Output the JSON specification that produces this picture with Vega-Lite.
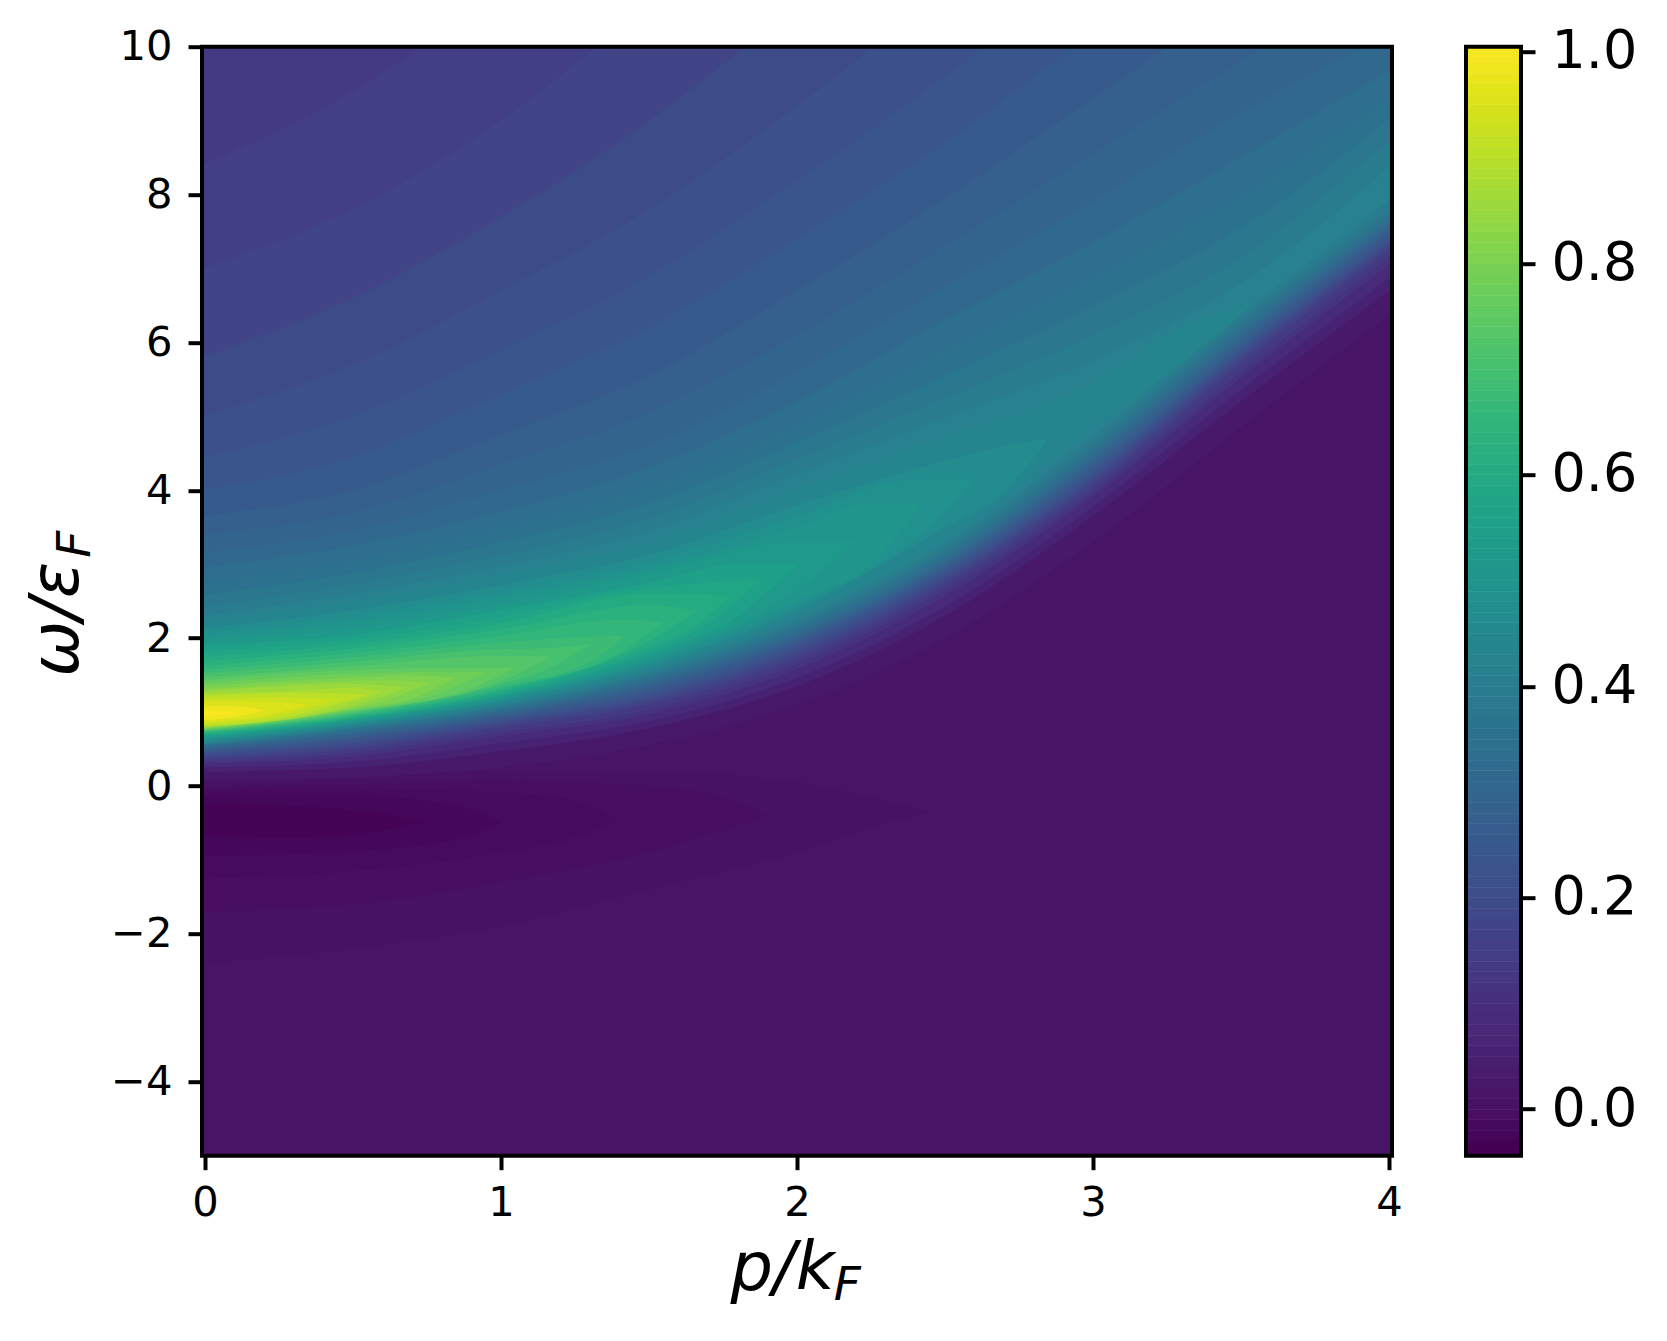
{"$schema":"https://vega.github.io/schema/vega-lite/v6.json","background":"white","padding":{"left":23,"top":24.7,"right":10,"bottom":25},"spacing":61,"config":{"view":{"stroke":null},"font":"DejaVu Sans"},
"hconcat":[{"width":1190,"height":1109,"layer":[
{"data":{"values":[
{"p":-0.01,"lo":-6,"hi":14,"v":0.008},{"p":4.01,"lo":-6,"hi":14,"v":0.008},
{"p":-0.01,"lo":-2.4,"hi":0.06,"v":0.002},{"p":0.5,"lo":-2.2,"hi":0.1,"v":0.002},{"p":1,"lo":-1.9,"hi":0.2,"v":0.002},{"p":1.5,"lo":-1.4,"hi":0.2,"v":0.002},{"p":2,"lo":-0.9,"hi":0.05,"v":0.002},{"p":2.3,"lo":-0.5,"hi":-0.2,"v":0.002},{"p":2.45,"lo":-0.35,"hi":-0.35,"v":0.002},
{"p":-0.01,"lo":-1.7,"hi":0,"v":-0.008},{"p":0.5,"lo":-1.6,"hi":0.02,"v":-0.008},{"p":1,"lo":-1.3,"hi":0.08,"v":-0.008},{"p":1.5,"lo":-0.9,"hi":0,"v":-0.008},{"p":1.75,"lo":-0.6,"hi":-0.15,"v":-0.008},{"p":1.9,"lo":-0.4,"hi":-0.4,"v":-0.008},
{"p":-0.01,"lo":-1.25,"hi":-0.06,"v":-0.018},{"p":0.5,"lo":-1.15,"hi":-0.05,"v":-0.018},{"p":1,"lo":-0.9,"hi":-0.08,"v":-0.018},{"p":1.25,"lo":-0.7,"hi":-0.2,"v":-0.018},{"p":1.4,"lo":-0.45,"hi":-0.45,"v":-0.018},
{"p":-0.01,"lo":-0.95,"hi":-0.13,"v":-0.028},{"p":0.5,"lo":-0.88,"hi":-0.13,"v":-0.028},{"p":0.85,"lo":-0.72,"hi":-0.27,"v":-0.028},{"p":1,"lo":-0.5,"hi":-0.5,"v":-0.028},
{"p":-0.01,"lo":-0.68,"hi":-0.25,"v":-0.038},{"p":0.3,"lo":-0.7,"hi":-0.27,"v":-0.038},{"p":0.6,"lo":-0.6,"hi":-0.38,"v":-0.038},{"p":0.75,"lo":-0.48,"hi":-0.48,"v":-0.038},
{"p":-0.01,"lo":0.08,"hi":14,"v":0.02},{"p":0.5,"lo":0.12,"hi":14,"v":0.02},{"p":1,"lo":0.25,"hi":14,"v":0.02},{"p":1.5,"lo":0.55,"hi":14,"v":0.02},{"p":2,"lo":1.1,"hi":14,"v":0.02},{"p":2.5,"lo":2,"hi":14,"v":0.02},{"p":3,"lo":3.3,"hi":14,"v":0.02},{"p":3.5,"lo":4.85,"hi":14,"v":0.02},{"p":4.01,"lo":6.4,"hi":14,"v":0.02},
{"p":-0.01,"lo":0.19,"hi":14,"v":0.05},{"p":0.5,"lo":0.25,"hi":14,"v":0.05},{"p":1,"lo":0.47,"hi":14,"v":0.05},{"p":1.5,"lo":0.78,"hi":14,"v":0.05},{"p":2,"lo":1.35,"hi":14,"v":0.05},{"p":2.5,"lo":2.3,"hi":14,"v":0.05},{"p":3,"lo":3.65,"hi":14,"v":0.05},{"p":3.5,"lo":5.2,"hi":14,"v":0.05},{"p":4.01,"lo":6.73,"hi":14,"v":0.05},
{"p":-0.01,"lo":0.25,"hi":14,"v":0.08},{"p":0.5,"lo":0.33,"hi":14,"v":0.08},{"p":1,"lo":0.58,"hi":14,"v":0.08},{"p":1.5,"lo":0.88,"hi":14,"v":0.08},{"p":2,"lo":1.46,"hi":14,"v":0.08},{"p":2.5,"lo":2.43,"hi":14,"v":0.08},{"p":3,"lo":3.78,"hi":14,"v":0.08},{"p":3.5,"lo":5.36,"hi":14,"v":0.08},{"p":4.01,"lo":6.9,"hi":14,"v":0.08},
{"p":-0.01,"lo":0.3,"hi":14,"v":0.11},{"p":0.5,"lo":0.4,"hi":14,"v":0.11},{"p":1,"lo":0.68,"hi":14,"v":0.11},{"p":1.5,"lo":0.97,"hi":14,"v":0.11},{"p":2,"lo":1.58,"hi":14,"v":0.11},{"p":2.5,"lo":2.57,"hi":14,"v":0.11},{"p":3,"lo":3.92,"hi":14,"v":0.11},{"p":3.5,"lo":5.52,"hi":14,"v":0.11},{"p":4.01,"lo":7.08,"hi":14,"v":0.11},
{"p":-0.01,"lo":0.33,"hi":11,"v":0.13},{"p":0.5,"lo":0.45,"hi":12,"v":0.13},{"p":1,"lo":0.73,"hi":14,"v":0.13},{"p":1.5,"lo":1.03,"hi":14,"v":0.13},{"p":2,"lo":1.65,"hi":14,"v":0.13},{"p":2.5,"lo":2.65,"hi":14,"v":0.13},{"p":3,"lo":3.98,"hi":14,"v":0.13},{"p":3.5,"lo":5.6,"hi":14,"v":0.13},{"p":4.01,"lo":7.18,"hi":14,"v":0.13},
{"p":-0.01,"lo":0.36,"hi":8.4,"v":0.15},{"p":0.5,"lo":0.49,"hi":9.4,"v":0.15},{"p":1,"lo":0.78,"hi":10.8,"v":0.15},{"p":1.5,"lo":1.1,"hi":12.6,"v":0.15},{"p":2,"lo":1.72,"hi":14,"v":0.15},{"p":2.5,"lo":2.72,"hi":14,"v":0.15},{"p":3,"lo":4.05,"hi":14,"v":0.15},{"p":3.5,"lo":5.7,"hi":14,"v":0.15},{"p":4.01,"lo":7.27,"hi":14,"v":0.15},
{"p":-0.01,"lo":0.38,"hi":7,"v":0.17},{"p":0.5,"lo":0.52,"hi":7.8,"v":0.17},{"p":1,"lo":0.81,"hi":9,"v":0.17},{"p":1.5,"lo":1.13,"hi":10.6,"v":0.17},{"p":2,"lo":1.76,"hi":12.5,"v":0.17},{"p":2.5,"lo":2.76,"hi":14,"v":0.17},{"p":3,"lo":4.09,"hi":14,"v":0.17},{"p":3.5,"lo":5.75,"hi":14,"v":0.17},{"p":4.01,"lo":7.31,"hi":14,"v":0.17},
{"p":-0.01,"lo":0.4,"hi":5.8,"v":0.19},{"p":0.5,"lo":0.55,"hi":6.6,"v":0.19},{"p":1,"lo":0.84,"hi":7.7,"v":0.19},{"p":1.5,"lo":1.17,"hi":9,"v":0.19},{"p":2,"lo":1.81,"hi":10.6,"v":0.19},{"p":2.5,"lo":2.8,"hi":12.5,"v":0.19},{"p":3,"lo":4.14,"hi":14,"v":0.19},{"p":3.5,"lo":5.8,"hi":14,"v":0.19},{"p":4.01,"lo":7.35,"hi":14,"v":0.19},
{"p":-0.01,"lo":0.43,"hi":5,"v":0.21},{"p":0.5,"lo":0.58,"hi":5.7,"v":0.21},{"p":1,"lo":0.87,"hi":6.7,"v":0.21},{"p":1.5,"lo":1.2,"hi":7.8,"v":0.21},{"p":2,"lo":1.85,"hi":9.2,"v":0.21},{"p":2.5,"lo":2.84,"hi":10.8,"v":0.21},{"p":3,"lo":4.18,"hi":12.6,"v":0.21},{"p":3.5,"lo":5.84,"hi":14,"v":0.21},{"p":4.01,"lo":7.39,"hi":14,"v":0.21},
{"p":-0.01,"lo":0.45,"hi":4.45,"v":0.23},{"p":0.5,"lo":0.61,"hi":5,"v":0.23},{"p":1,"lo":0.89,"hi":5.9,"v":0.23},{"p":1.5,"lo":1.24,"hi":6.9,"v":0.23},{"p":2,"lo":1.89,"hi":8.2,"v":0.23},{"p":2.5,"lo":2.88,"hi":9.6,"v":0.23},{"p":3,"lo":4.23,"hi":11.2,"v":0.23},{"p":3.5,"lo":5.88,"hi":13,"v":0.23},{"p":4.01,"lo":7.44,"hi":14,"v":0.23},
{"p":-0.01,"lo":0.46,"hi":4,"v":0.25},{"p":0.5,"lo":0.64,"hi":4.45,"v":0.25},{"p":1,"lo":0.92,"hi":5.3,"v":0.25},{"p":1.5,"lo":1.28,"hi":6.2,"v":0.25},{"p":2,"lo":1.94,"hi":7.4,"v":0.25},{"p":2.5,"lo":2.92,"hi":8.7,"v":0.25},{"p":3,"lo":4.27,"hi":10.2,"v":0.25},{"p":3.5,"lo":5.93,"hi":11.8,"v":0.25},{"p":4.01,"lo":7.49,"hi":13.5,"v":0.25},
{"p":-0.01,"lo":0.485,"hi":3.65,"v":0.27},{"p":0.5,"lo":0.66,"hi":4,"v":0.27},{"p":1,"lo":0.95,"hi":4.75,"v":0.27},{"p":1.5,"lo":1.32,"hi":5.55,"v":0.27},{"p":2,"lo":1.98,"hi":6.7,"v":0.27},{"p":2.5,"lo":2.96,"hi":7.95,"v":0.27},{"p":3,"lo":4.32,"hi":9.3,"v":0.27},{"p":3.5,"lo":5.97,"hi":10.7,"v":0.27},{"p":4.01,"lo":7.54,"hi":12.3,"v":0.27},
{"p":-0.01,"lo":0.5,"hi":3.4,"v":0.29},{"p":0.5,"lo":0.69,"hi":3.7,"v":0.29},{"p":1,"lo":0.97,"hi":4.35,"v":0.29},{"p":1.5,"lo":1.36,"hi":5.05,"v":0.29},{"p":2,"lo":2,"hi":6.1,"v":0.29},{"p":2.5,"lo":2.99,"hi":7.3,"v":0.29},{"p":3,"lo":4.38,"hi":8.55,"v":0.29},{"p":3.5,"lo":6.03,"hi":9.8,"v":0.29},{"p":4.01,"lo":7.58,"hi":11,"v":0.29},
{"p":-0.01,"lo":0.515,"hi":3.15,"v":0.31},{"p":0.5,"lo":0.71,"hi":3.45,"v":0.31},{"p":1,"lo":0.99,"hi":4,"v":0.31},{"p":1.5,"lo":1.39,"hi":4.6,"v":0.31},{"p":2,"lo":2.04,"hi":5.6,"v":0.31},{"p":2.5,"lo":3.02,"hi":6.75,"v":0.31},{"p":3,"lo":4.42,"hi":7.9,"v":0.31},{"p":3.5,"lo":6.07,"hi":9.1,"v":0.31},{"p":4.01,"lo":7.62,"hi":10.2,"v":0.31},
{"p":-0.01,"lo":0.53,"hi":2.95,"v":0.33},{"p":0.5,"lo":0.73,"hi":3.25,"v":0.33},{"p":1,"lo":1.01,"hi":3.7,"v":0.33},{"p":1.5,"lo":1.42,"hi":4.3,"v":0.33},{"p":2,"lo":2.08,"hi":5.2,"v":0.33},{"p":2.5,"lo":3.06,"hi":6.3,"v":0.33},{"p":3,"lo":4.47,"hi":7.35,"v":0.33},{"p":3.5,"lo":6.12,"hi":8.5,"v":0.33},{"p":4.01,"lo":7.66,"hi":9.7,"v":0.33},
{"p":-0.01,"lo":0.54,"hi":2.75,"v":0.35},{"p":0.5,"lo":0.75,"hi":3.05,"v":0.35},{"p":1,"lo":1.03,"hi":3.5,"v":0.35},{"p":1.5,"lo":1.45,"hi":4.05,"v":0.35},{"p":2,"lo":2.12,"hi":4.9,"v":0.35},{"p":2.5,"lo":3.1,"hi":5.9,"v":0.35},{"p":3,"lo":4.52,"hi":6.9,"v":0.35},{"p":3.5,"lo":6.18,"hi":8,"v":0.35},{"p":4.01,"lo":7.7,"hi":9.35,"v":0.35},
{"p":-0.01,"lo":0.55,"hi":2.58,"v":0.37},{"p":0.5,"lo":0.77,"hi":2.88,"v":0.37},{"p":1,"lo":1.05,"hi":3.3,"v":0.37},{"p":1.5,"lo":1.48,"hi":3.82,"v":0.37},{"p":2,"lo":2.16,"hi":4.65,"v":0.37},{"p":2.5,"lo":3.15,"hi":5.55,"v":0.37},{"p":3,"lo":4.58,"hi":6.5,"v":0.37},{"p":3.5,"lo":6.24,"hi":7.55,"v":0.37},{"p":4.01,"lo":7.75,"hi":9.05,"v":0.37},
{"p":-0.01,"lo":0.56,"hi":2.42,"v":0.39},{"p":0.5,"lo":0.78,"hi":2.73,"v":0.39},{"p":1,"lo":1.07,"hi":3.12,"v":0.39},{"p":1.5,"lo":1.51,"hi":3.62,"v":0.39},{"p":2,"lo":2.2,"hi":4.42,"v":0.39},{"p":2.5,"lo":3.2,"hi":5.25,"v":0.39},{"p":3,"lo":4.65,"hi":6.1,"v":0.39},{"p":3.5,"lo":6.3,"hi":7.15,"v":0.39},{"p":4.01,"lo":7.82,"hi":8.75,"v":0.39},
{"p":-0.01,"lo":0.565,"hi":2.3,"v":0.41},{"p":0.5,"lo":0.8,"hi":2.6,"v":0.41},{"p":1,"lo":1.09,"hi":2.98,"v":0.41},{"p":1.5,"lo":1.54,"hi":3.45,"v":0.41},{"p":2,"lo":2.25,"hi":4.22,"v":0.41},{"p":2.5,"lo":3.26,"hi":4.98,"v":0.41},{"p":3,"lo":4.73,"hi":5.75,"v":0.41},{"p":3.5,"lo":6.37,"hi":6.8,"v":0.41},{"p":4.01,"lo":7.95,"hi":8.4,"v":0.41},
{"p":-0.01,"lo":0.58,"hi":2.22,"v":0.43},{"p":0.5,"lo":0.81,"hi":2.5,"v":0.43},{"p":1,"lo":1.11,"hi":2.86,"v":0.43},{"p":1.5,"lo":1.57,"hi":3.3,"v":0.43},{"p":2,"lo":2.3,"hi":4.02,"v":0.43},{"p":2.5,"lo":3.33,"hi":4.72,"v":0.43},{"p":3,"lo":4.85,"hi":5.45,"v":0.43},{"p":3.3,"lo":5.72,"hi":6.2,"v":0.43},{"p":3.55,"lo":6.55,"hi":6.55,"v":0.43},
{"p":-0.01,"lo":0.6,"hi":2.13,"v":0.46},{"p":0.5,"lo":0.83,"hi":2.38,"v":0.46},{"p":1,"lo":1.14,"hi":2.72,"v":0.46},{"p":1.5,"lo":1.62,"hi":3.13,"v":0.46},{"p":2,"lo":2.38,"hi":3.8,"v":0.46},{"p":2.5,"lo":3.5,"hi":4.4,"v":0.46},{"p":2.7,"lo":3.98,"hi":4.6,"v":0.46},{"p":2.85,"lo":4.7,"hi":4.7,"v":0.46},
{"p":-0.01,"lo":0.615,"hi":2.08,"v":0.48},{"p":0.5,"lo":0.845,"hi":2.3,"v":0.48},{"p":1,"lo":1.16,"hi":2.63,"v":0.48},{"p":1.5,"lo":1.65,"hi":3.03,"v":0.48},{"p":2,"lo":2.43,"hi":3.65,"v":0.48},{"p":2.4,"lo":3.35,"hi":4.15,"v":0.48},{"p":2.6,"lo":4.15,"hi":4.15,"v":0.48},
{"p":-0.01,"lo":0.63,"hi":2.03,"v":0.5},{"p":0.5,"lo":0.86,"hi":2.22,"v":0.5},{"p":1,"lo":1.18,"hi":2.55,"v":0.5},{"p":1.5,"lo":1.69,"hi":2.95,"v":0.5},{"p":2,"lo":2.5,"hi":3.5,"v":0.5},{"p":2.25,"lo":3,"hi":3.82,"v":0.5},{"p":2.42,"lo":3.8,"hi":3.8,"v":0.5},
{"p":-0.01,"lo":0.645,"hi":1.96,"v":0.525},{"p":0.5,"lo":0.875,"hi":2.13,"v":0.525},{"p":1,"lo":1.2,"hi":2.46,"v":0.525},{"p":1.5,"lo":1.72,"hi":2.87,"v":0.525},{"p":2,"lo":2.65,"hi":3.3,"v":0.525},{"p":2.2,"lo":3.3,"hi":3.3,"v":0.525},
{"p":-0.01,"lo":0.66,"hi":1.9,"v":0.55},{"p":0.5,"lo":0.89,"hi":2.05,"v":0.55},{"p":1,"lo":1.22,"hi":2.38,"v":0.55},{"p":1.5,"lo":1.78,"hi":2.75,"v":0.55},{"p":1.8,"lo":2.3,"hi":3,"v":0.55},{"p":2,"lo":3,"hi":3,"v":0.55},
{"p":-0.01,"lo":0.675,"hi":1.82,"v":0.575},{"p":0.5,"lo":0.905,"hi":1.98,"v":0.575},{"p":1,"lo":1.245,"hi":2.28,"v":0.575},{"p":1.5,"lo":1.83,"hi":2.68,"v":0.575},{"p":1.7,"lo":2.2,"hi":2.75,"v":0.575},{"p":1.88,"lo":2.8,"hi":2.8,"v":0.575},
{"p":-0.01,"lo":0.69,"hi":1.75,"v":0.6},{"p":0.5,"lo":0.92,"hi":1.92,"v":0.6},{"p":1,"lo":1.27,"hi":2.2,"v":0.6},{"p":1.5,"lo":1.88,"hi":2.6,"v":0.6},{"p":1.65,"lo":2.15,"hi":2.6,"v":0.6},{"p":1.77,"lo":2.55,"hi":2.55,"v":0.6},
{"p":-0.01,"lo":0.705,"hi":1.69,"v":0.625},{"p":0.5,"lo":0.935,"hi":1.86,"v":0.625},{"p":1,"lo":1.295,"hi":2.12,"v":0.625},{"p":1.5,"lo":1.96,"hi":2.45,"v":0.625},{"p":1.66,"lo":2.37,"hi":2.37,"v":0.625},
{"p":-0.01,"lo":0.72,"hi":1.62,"v":0.65},{"p":0.5,"lo":0.95,"hi":1.8,"v":0.65},{"p":1,"lo":1.32,"hi":2.03,"v":0.65},{"p":1.4,"lo":1.8,"hi":2.25,"v":0.65},{"p":1.55,"lo":2.22,"hi":2.22,"v":0.65},
{"p":-0.01,"lo":0.73,"hi":1.57,"v":0.675},{"p":0.5,"lo":0.965,"hi":1.74,"v":0.675},{"p":1,"lo":1.35,"hi":1.94,"v":0.675},{"p":1.3,"lo":1.68,"hi":2.02,"v":0.675},{"p":1.42,"lo":2.03,"hi":2.03,"v":0.675},
{"p":-0.01,"lo":0.74,"hi":1.52,"v":0.7},{"p":0.5,"lo":0.98,"hi":1.68,"v":0.7},{"p":1,"lo":1.38,"hi":1.85,"v":0.7},{"p":1.15,"lo":1.57,"hi":1.86,"v":0.7},{"p":1.3,"lo":1.92,"hi":1.92,"v":0.7},
{"p":-0.01,"lo":0.745,"hi":1.47,"v":0.725},{"p":0.5,"lo":0.995,"hi":1.62,"v":0.725},{"p":1,"lo":1.42,"hi":1.76,"v":0.725},{"p":1.17,"lo":1.75,"hi":1.75,"v":0.725},
{"p":-0.01,"lo":0.75,"hi":1.43,"v":0.75},{"p":0.5,"lo":1.01,"hi":1.57,"v":0.75},{"p":0.9,"lo":1.32,"hi":1.6,"v":0.75},{"p":1.05,"lo":1.6,"hi":1.6,"v":0.75},
{"p":-0.01,"lo":0.76,"hi":1.39,"v":0.775},{"p":0.5,"lo":1.025,"hi":1.52,"v":0.775},{"p":0.8,"lo":1.27,"hi":1.55,"v":0.775},{"p":0.95,"lo":1.54,"hi":1.54,"v":0.775},
{"p":-0.01,"lo":0.77,"hi":1.35,"v":0.8},{"p":0.5,"lo":1.04,"hi":1.47,"v":0.8},{"p":0.7,"lo":1.18,"hi":1.5,"v":0.8},{"p":0.85,"lo":1.47,"hi":1.47,"v":0.8},
{"p":-0.01,"lo":0.78,"hi":1.31,"v":0.825},{"p":0.5,"lo":1.06,"hi":1.42,"v":0.825},{"p":0.62,"lo":1.17,"hi":1.43,"v":0.825},{"p":0.76,"lo":1.4,"hi":1.4,"v":0.825},
{"p":-0.01,"lo":0.79,"hi":1.28,"v":0.85},{"p":0.5,"lo":1.08,"hi":1.38,"v":0.85},{"p":0.68,"lo":1.33,"hi":1.33,"v":0.85},
{"p":-0.01,"lo":0.8,"hi":1.25,"v":0.875},{"p":0.3,"lo":0.93,"hi":1.29,"v":0.875},{"p":0.5,"lo":1.13,"hi":1.33,"v":0.875},{"p":0.6,"lo":1.28,"hi":1.28,"v":0.875},
{"p":-0.01,"lo":0.81,"hi":1.22,"v":0.9},{"p":0.3,"lo":0.95,"hi":1.26,"v":0.9},{"p":0.55,"lo":1.24,"hi":1.24,"v":0.9},
{"p":-0.01,"lo":0.83,"hi":1.18,"v":0.925},{"p":0.25,"lo":0.95,"hi":1.2,"v":0.925},{"p":0.45,"lo":1.17,"hi":1.17,"v":0.925},
{"p":-0.01,"lo":0.85,"hi":1.15,"v":0.95},{"p":0.2,"lo":0.95,"hi":1.14,"v":0.95},{"p":0.35,"lo":1.1,"hi":1.1,"v":0.95},
{"p":-0.01,"lo":0.89,"hi":1.08,"v":0.98},{"p":0.1,"lo":0.93,"hi":1.08,"v":0.98},{"p":0.2,"lo":1.02,"hi":1.02,"v":0.98},
{"p":-0.01,"lo":0.93,"hi":1.03,"v":1},{"p":0.12,"lo":0.99,"hi":0.99,"v":1}
]},
"mark":{"type":"area","clip":true,"interpolate":"monotone","orient":"vertical"},
"encoding":{"x":{"field":"p","type":"quantitative","scale":{"domain":[-0.01,4.01],"nice":false,"zero":false},
"axis":{"values":[0,1,2,3,4],"format":"d","grid":false,"domain":false,"tickSize":14,"tickWidth":4,"tickColor":"black","labelFontSize":41.67,"labelColor":"black","labelFont":"DejaVu Sans","labelPadding":13,"title":"p/k","titleFont":"DejaVu Sans","titleFontStyle":"italic","titleFontWeight":"normal","titleFontSize":67,"titleColor":"black","titleAnchor":"middle","titleX":580,"titleY":134,"titleBaseline":"alphabetic"}},
"y":{"field":"lo","type":"quantitative","scale":{"domain":[-5,10],"nice":false,"zero":false},
"axis":{"values":[-4,-2,0,2,4,6,8,10],"format":"d","grid":false,"domain":false,"tickSize":14,"tickWidth":4,"tickColor":"black","labelFontSize":41.67,"labelColor":"black","labelFont":"DejaVu Sans","labelPadding":16,"title":"ω/ε","titleFont":"DejaVu Sans","titleFontStyle":"italic","titleFontWeight":"normal","titleFontSize":67,"titleColor":"black","titleAnchor":"middle","titleX":-125,"titleY":572,"titleBaseline":"alphabetic"}},
"y2":{"field":"hi"},
"detail":{"field":"v","type":"quantitative"},
"color":{"field":"v","type":"quantitative","scale":{"scheme":"viridis","domain":[-0.044,1.005]},"legend":null}}},
{"data":{"values":[{"a":1}]},"mark":{"type":"rect","fill":null,"stroke":"black","strokeWidth":4,"clip":false},"encoding":{"x":{"datum":-0.01},"x2":{"datum":4.01},"y":{"datum":-5},"y2":{"datum":10}}},
{"data":{"values":[{"a":1}]},"mark":{"type":"text","text":"F","font":"DejaVu Sans","fontStyle":"italic","fontSize":47,"color":"black","align":"center","baseline":"alphabetic","dy":144},"encoding":{"x":{"datum":2.17},"y":{"datum":-5}}},
{"data":{"values":[{"a":1}]},"mark":{"type":"text","text":"F","font":"DejaVu Sans","fontStyle":"italic","fontSize":47,"color":"black","align":"center","baseline":"alphabetic","angle":270,"dy":-112},"encoding":{"x":{"datum":-0.01},"y":{"datum":3.27}}}
]},
{"width":55,"height":1109,"layer":[
{"data":{"values":[{"v":-0.044,"t":-0.03},{"v":-0.03,"t":-0.02},{"v":-0.02,"t":-0.01},{"v":-0.01,"t":0},{"v":0,"t":0.01},{"v":0.01,"t":0.02},{"v":0.02,"t":0.03},{"v":0.03,"t":0.04},{"v":0.04,"t":0.05},{"v":0.05,"t":0.06},{"v":0.06,"t":0.07},{"v":0.07,"t":0.08},{"v":0.08,"t":0.09},{"v":0.09,"t":0.1},{"v":0.1,"t":0.11},{"v":0.11,"t":0.12},{"v":0.12,"t":0.13},{"v":0.13,"t":0.14},{"v":0.14,"t":0.15},{"v":0.15,"t":0.16},{"v":0.16,"t":0.17},{"v":0.17,"t":0.18},{"v":0.18,"t":0.19},{"v":0.19,"t":0.2},{"v":0.2,"t":0.21},{"v":0.21,"t":0.22},{"v":0.22,"t":0.23},{"v":0.23,"t":0.24},{"v":0.24,"t":0.25},{"v":0.25,"t":0.26},{"v":0.26,"t":0.27},{"v":0.27,"t":0.28},{"v":0.28,"t":0.29},{"v":0.29,"t":0.3},{"v":0.3,"t":0.31},{"v":0.31,"t":0.32},{"v":0.32,"t":0.33},{"v":0.33,"t":0.34},{"v":0.34,"t":0.35},{"v":0.35,"t":0.36},{"v":0.36,"t":0.37},{"v":0.37,"t":0.38},{"v":0.38,"t":0.39},{"v":0.39,"t":0.4},{"v":0.4,"t":0.41},{"v":0.41,"t":0.42},{"v":0.42,"t":0.43},{"v":0.43,"t":0.44},{"v":0.44,"t":0.45},{"v":0.45,"t":0.46},{"v":0.46,"t":0.47},{"v":0.47,"t":0.48},{"v":0.48,"t":0.49},{"v":0.49,"t":0.5},{"v":0.5,"t":0.51},{"v":0.51,"t":0.52},{"v":0.52,"t":0.53},{"v":0.53,"t":0.54},{"v":0.54,"t":0.55},{"v":0.55,"t":0.56},{"v":0.56,"t":0.57},{"v":0.57,"t":0.58},{"v":0.58,"t":0.59},{"v":0.59,"t":0.6},{"v":0.6,"t":0.61},{"v":0.61,"t":0.62},{"v":0.62,"t":0.63},{"v":0.63,"t":0.64},{"v":0.64,"t":0.65},{"v":0.65,"t":0.66},{"v":0.66,"t":0.67},{"v":0.67,"t":0.68},{"v":0.68,"t":0.69},{"v":0.69,"t":0.7},{"v":0.7,"t":0.71},{"v":0.71,"t":0.72},{"v":0.72,"t":0.73},{"v":0.73,"t":0.74},{"v":0.74,"t":0.75},{"v":0.75,"t":0.76},{"v":0.76,"t":0.77},{"v":0.77,"t":0.78},{"v":0.78,"t":0.79},{"v":0.79,"t":0.8},{"v":0.8,"t":0.81},{"v":0.81,"t":0.82},{"v":0.82,"t":0.83},{"v":0.83,"t":0.84},{"v":0.84,"t":0.85},{"v":0.85,"t":0.86},{"v":0.86,"t":0.87},{"v":0.87,"t":0.88},{"v":0.88,"t":0.89},{"v":0.89,"t":0.9},{"v":0.9,"t":0.91},{"v":0.91,"t":0.92},{"v":0.92,"t":0.93},{"v":0.93,"t":0.94},{"v":0.94,"t":0.95},{"v":0.95,"t":0.96},{"v":0.96,"t":0.97},{"v":0.97,"t":0.98},{"v":0.98,"t":0.99},{"v":0.99,"t":1.005}]},
"mark":{"type":"rect","strokeWidth":0.6},
"encoding":{"y":{"field":"v","type":"quantitative","scale":{"domain":[-0.044,1.005],"nice":false,"zero":false},"axis":{"orient":"right","values":[0,0.2,0.4,0.6,0.8,1],"format":".1f","grid":false,"domain":false,"tickSize":14,"tickWidth":4,"tickColor":"black","labelFontSize":54,"labelColor":"black","labelFont":"DejaVu Sans","labelPadding":16,"title":null}},"y2":{"field":"t"},
"color":{"field":"v","type":"quantitative","scale":{"scheme":"viridis","domain":[-0.044,1.005]},"legend":null},
"stroke":{"field":"v","type":"quantitative","scale":{"scheme":"viridis","domain":[-0.044,1.005]},"legend":null}}},
{"data":{"values":[{"a":1}]},"mark":{"type":"rect","fill":null,"stroke":"black","strokeWidth":4},"encoding":{"y":{"datum":-0.044},"y2":{"datum":1.005}}}
]}],
"resolve":{"scale":{"color":"independent"}}}
